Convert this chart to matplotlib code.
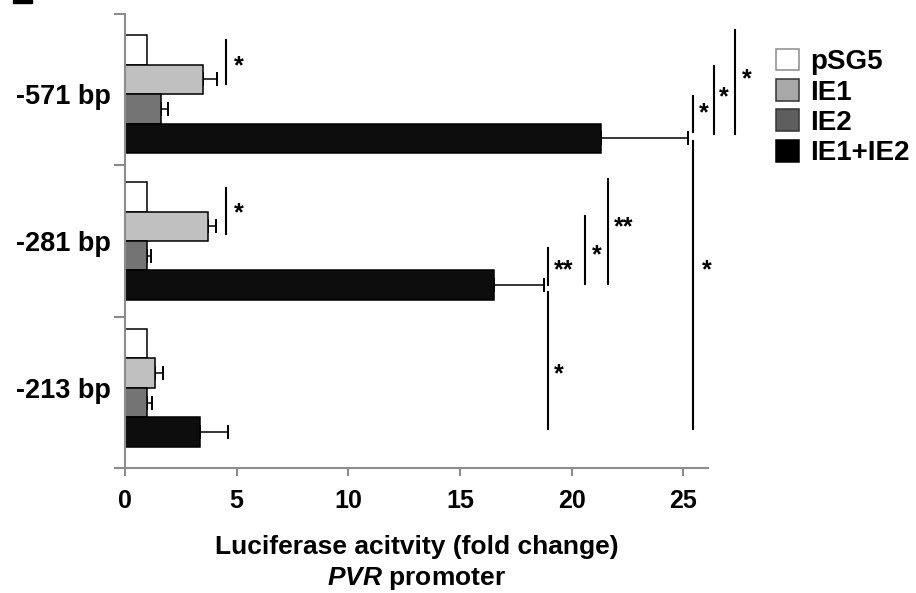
import matplotlib

matplotlib.use("Agg")
import matplotlib.pyplot as plt
import numpy as np
from matplotlib.patches import Patch, Rectangle

plt.rcParams["font.family"] = ["Liberation Sans", "DejaVu Sans"]
plt.rcParams["font.weight"] = "bold"
plt.rcParams["axes.labelweight"] = "bold"
plt.rcParams["mathtext.fontset"] = "custom"
plt.rcParams["mathtext.it"] = "Liberation Sans:italic:bold"
plt.rcParams["mathtext.rm"] = "Liberation Sans:bold"

# promoter constructs, top to bottom
constructs = ["-571 bp", "-281 bp", "-213 bp"]
conditions = ["pSG5", "IE1", "IE2", "IE1+IE2"]

# fold change per condition, one value per construct
pSG5 = [1.0, 1.0, 1.0]
ie1 = [3.5, 3.73, 1.34]
ie2 = [1.6, 1.0, 1.0]
ie1_ie2 = [21.3, 16.5, 3.35]

pSG5_err = [0.0, 0.0, 0.0]
ie1_err = [0.62, 0.35, 0.37]
ie2_err = [0.33, 0.16, 0.2]
ie1_ie2_err = [3.9, 2.25, 1.27]

# significance brackets: (x, y_low, y_high, label, x_label, y_label)
brackets = [
    (4.52, 2.07, 2.37, "*", 5.1, 2.19),
    (4.52, 1.05, 1.36, "*", 5.1, 1.19),
    (25.42, 1.74, 1.99, "*", 25.9, 1.87),
    (26.36, 1.73, 2.19, "*", 26.82, 1.98),
    (27.32, 1.73, 2.44, "*", 27.81, 2.10),
    (18.94, 0.70, 0.95, "**", 19.62, 0.80),
    (20.60, 0.71, 1.17, "*", 21.12, 0.90),
    (21.62, 0.71, 1.42, "**", 22.31, 1.09),
    (18.93, -0.28, 0.65, "*", 19.40, 0.09),
    (25.43, -0.28, 1.68, "*", 26.04, 0.80),
]

values = [pSG5, ie1, ie2, ie1_ie2]
errors = [pSG5_err, ie1_err, ie2_err, ie1_ie2_err]
colors = ["white", "#c0c0c0", "#747474", "#0d0d0d"]
offsets = [0.3, 0.1, -0.1, -0.3]
bar_h = 0.2
axis_grey = "#8c8c8c"

fig = plt.figure(figsize=(9.16, 5.93), dpi=100)
ax = fig.add_axes([0.1365, 0.2108, 0.773 - 0.1365, 0.9764 - 0.2108])

centers = np.arange(len(constructs))[::-1]
for vals, errs, col, off in zip(values, errors, colors, offsets):
    ax.barh(centers + off, vals, height=bar_h, color=col, edgecolor="black",
            linewidth=1.1, zorder=2)
    has_err = [e > 0 for e in errs]
    ys = (centers + off)[has_err]
    xs = np.array(vals)[has_err]
    es = np.array(errs)[has_err]
    ax.errorbar(xs, ys, xerr=[np.zeros_like(es), es], fmt="none",
                ecolor="black", elinewidth=1.1, capsize=5, capthick=1.4, zorder=1)

for x, y0, y1, lab, tx, ty in brackets:
    ax.plot([x, x], [y0, y1], color="black", lw=1.5, clip_on=False, zorder=3)
    ax.text(tx, ty, lab, ha="center", va="center", fontsize=18,
            fontweight="bold", clip_on=False)

ax.set_xlim(0, 26.1)
ax.set_ylim(-0.546, 2.546)
ax.set_xticks([0, 5, 10, 15, 20, 25])
ax.tick_params(axis="x", direction="out", length=6, width=1.5, color=axis_grey,
               labelsize=18, pad=9)

# group boundaries carry the y ticks, construct names sit at group centres
ax.set_yticks(np.linspace(-0.546, 2.546, 4))
ax.set_yticklabels([])
ax.set_yticks(centers, minor=True)
ax.set_yticklabels(constructs, minor=True, fontsize=19.5)
ax.tick_params(axis="y", which="major", direction="out", length=8, width=1.5,
               color=axis_grey)
ax.tick_params(axis="y", which="minor", length=0, pad=10)

for side in ("top", "right"):
    ax.spines[side].set_visible(False)
for side in ("left", "bottom"):
    ax.spines[side].set_color(axis_grey)
    ax.spines[side].set_linewidth(1.5)

ax.set_xlabel("Luciferase acitvity (fold change)\n$PVR$ promoter",
              fontsize=19, labelpad=16, linespacing=1.3)

handles = [
    Patch(facecolor="white", edgecolor="#8c8c8c", linewidth=1.1),
    Patch(facecolor="#a8a8a8", edgecolor="#333333", linewidth=1.1),
    Patch(facecolor="#5e5e5e", edgecolor="#333333", linewidth=1.1),
    Patch(facecolor="black", edgecolor="black", linewidth=1.1),
]
fig.legend(handles, conditions, loc="upper left", bbox_to_anchor=(0.847, 0.918),
           frameon=False, fontsize=20, handlelength=0.83, handleheight=0.83,
           handletextpad=0.4, labelspacing=0.14, borderpad=0, borderaxespad=0)

# stub of the panel letter cropped at the top edge
fig.patches.append(Rectangle((13 / 916, 1 - 3 / 593), 19 / 916, 3 / 593,
                             transform=fig.transFigure, color="black"))

fig.savefig("out.png", dpi=100)
